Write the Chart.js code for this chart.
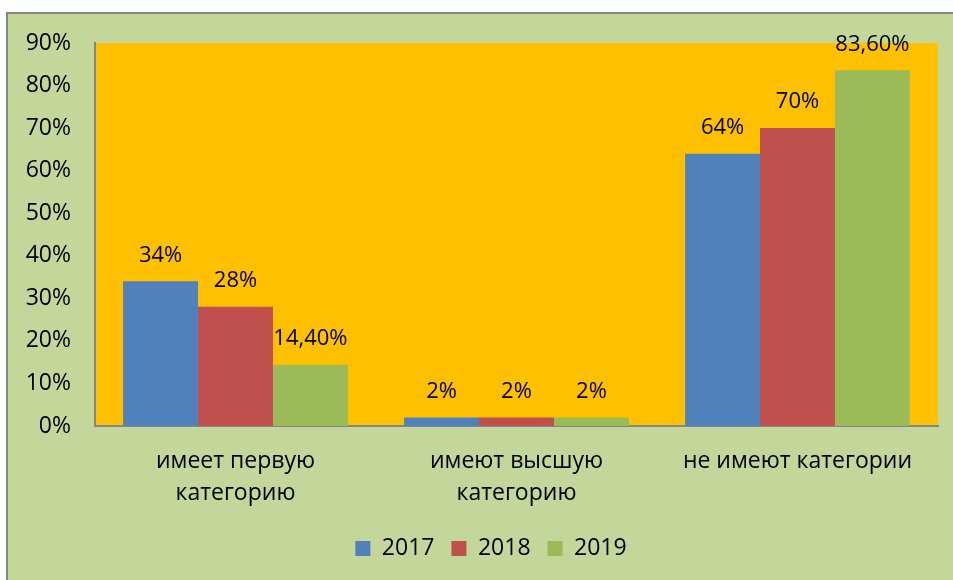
<!DOCTYPE html>
<html>
<head>
<meta charset="utf-8">
<script src="https://cdn.jsdelivr.net/npm/chart.js@4"></script>
<style>
    html, body { margin: 0; padding: 0; background: #ffffff; overflow: hidden; }
    #wrap { width: 953px; height: 580px; position: relative; }
</style>
</head>
<body>
<div id="wrap"><canvas id="barChart" width="953" height="580"></canvas></div>
<script>
const categories = [['имеет первую', 'категорию'], ['имеют высшую', 'категорию'], 'не имеют категории'];
const years = ['2017', '2018', '2019'];
const values2017 = [34, 2, 64];
const values2018 = [28, 2, 70];
const values2019 = [14.4, 2, 83.6];
const yTicks = [0, 10, 20, 30, 40, 50, 60, 70, 80, 90];

const FONT = '"Open Sans", "DejaVu Sans", sans-serif';
const FSIZE = 23;

function fmtPct(v) {
    return Number.isInteger(v) ? v + '%' : v.toFixed(2).replace('.', ',') + '%';
}

// background: outer light green frame + orange plot area
const backgroundPlugin = {
    id: 'bgFrame',
    beforeDraw(chart) {
        const ctx = chart.ctx;
        const a = chart.chartArea;
        ctx.save();
        ctx.fillStyle = '#ffffff';
        ctx.fillRect(0, 0, chart.width, chart.height);
        ctx.fillStyle = '#C4D79B';
        ctx.fillRect(7, 13, chart.width, chart.height);
        ctx.strokeStyle = '#868686';
        ctx.lineWidth = 2;
        ctx.beginPath();
        ctx.moveTo(7, chart.height + 5);
        ctx.lineTo(7, 13);
        ctx.lineTo(chart.width + 5, 13);
        ctx.stroke();
        ctx.fillStyle = '#FFC000';
        ctx.fillRect(a.left, a.top, a.right - a.left, a.bottom - a.top);
        ctx.restore();
    }
};

// legend sits a bit right of centre in the original (frame is cut off)
const legendShift = {
    id: 'legendShift',
    afterLayout(chart) {
        if (chart.legend) {
            chart.legend.left += 22;
            chart.legend.right += 22;
        }
    }
};

// value labels above bars
const valueLabels = {
    id: 'valueLabels',
    afterDatasetsDraw(chart) {
        const ctx = chart.ctx;
        ctx.save();
        ctx.font = '22px ' + FONT;
        ctx.fillStyle = '#000000';
        ctx.textAlign = 'center';
        ctx.textBaseline = 'middle';
        chart.data.datasets.forEach((ds, i) => {
            chart.getDatasetMeta(i).data.forEach((bar, j) => {
                ctx.fillText(fmtPct(ds.data[j]), bar.x, bar.y - 26);
            });
        });
        ctx.restore();
    }
};

new Chart(document.getElementById('barChart').getContext('2d'), {
    type: 'bar',
    data: {
        labels: categories,
        datasets: [
            { label: years[0], data: values2017, backgroundColor: '#4F81BD' },
            { label: years[1], data: values2018, backgroundColor: '#C0504D' },
            { label: years[2], data: values2019, backgroundColor: '#9BBB59' }
        ]
    },
    options: {
        responsive: false,
        animation: false,
        devicePixelRatio: 1,
        categoryPercentage: 0.8,
        barPercentage: 1.0,
        layout: { padding: { left: 0, top: 43, right: 15, bottom: 10 } },
        plugins: {
            legend: {
                position: 'bottom',
                labels: {
                    font: { family: FONT, size: FSIZE },
                    color: '#000000',
                    boxWidth: 15,
                    boxHeight: 15,
                    padding: 17
                }
            },
            tooltip: { enabled: false }
        },
        scales: {
            x: {
                grid: { display: false },
                border: { display: true, color: '#868686', width: 2 },
                ticks: {
                    font: { family: FONT, size: FSIZE, lineHeight: 1.4 },
                    color: '#000000',
                    maxRotation: 0,
                    padding: 11
                },
                afterFit(s) { s.height = 94; }
            },
            y: {
                min: 0,
                max: 90,
                afterBuildTicks(s) { s.ticks = yTicks.map(v => ({ value: v })); },
                grid: { display: false },
                border: { display: true, color: '#868686', width: 2 },
                ticks: {
                    font: { family: FONT, size: FSIZE },
                    color: '#000000',
                    padding: 16,
                    callback: v => v + '%'
                },
                afterFit(s) { s.width = 95; }
            }
        }
    },
    plugins: [backgroundPlugin, legendShift, valueLabels]
});
</script>
</body>
</html>
